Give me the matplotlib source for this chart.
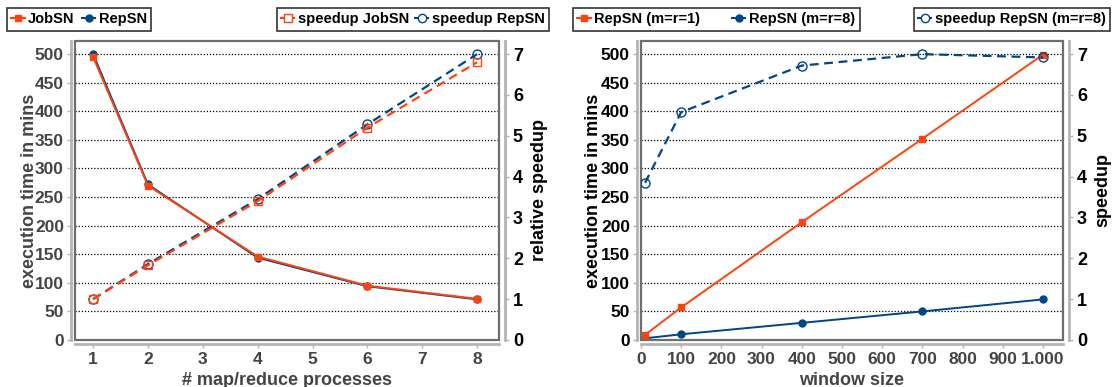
import matplotlib
matplotlib.use("Agg")
import matplotlib.pyplot as plt
from matplotlib.patches import Rectangle
from matplotlib.lines import Line2D

plt.rcParams['font.family'] = ['Liberation Sans', 'DejaVu Sans']
plt.rcParams['font.weight'] = 'bold'
plt.rcParams['axes.labelweight'] = 'bold'

# ---- data: left chart ----
procs = [1, 2, 4, 6, 8]
time_jobsn = [495, 270, 146, 95, 72]
time_repsn = [500, 272, 144, 94, 71]
speedup_jobsn = [1.0, 1.83, 3.40, 5.20, 6.80]
speedup_repsn = [1.0, 1.86, 3.45, 5.28, 7.00]
left_xticks = [1, 2, 3, 4, 5, 6, 7, 8]

# ---- data: right chart ----
window = [10, 100, 400, 700, 1000]
time_m1 = [9, 57, 206, 352, 499]
time_m8 = [3, 10, 30, 50, 71]
speedup_m8 = [3.85, 5.58, 6.72, 7.00, 6.92]
right_xticks = [0, 100, 200, 300, 400, 500, 600, 700, 800, 900, 1000]
right_xticklabels = ['0', '100', '200', '300', '400', '500', '600', '700', '800', '900', '1.000']

time_ticks = list(range(0, 501, 50))
speed_ticks = [0, 1, 2, 3, 4, 5, 6, 7]

ORANGE = '#ff420e'
BLUE = '#004586'
GRAY_TXT = '#444444'
FRAME = '#6e6e6e'
AXLINE = '#b4b4b4'
TICK_FS = 12.5
LABEL_FS = 13

W, H = 1113, 387
fig = plt.figure(figsize=(W / 100, H / 100), dpi=100)


def px_axes(x0, x1, y0, y1):
    return fig.add_axes([x0 / W, 1 - y1 / H, (x1 - x0) / W, (y1 - y0) / H])


def style(ax, ax2, left_col, right_col, xcol):
    ax.set_ylim(0, 523)
    ax2.set_ylim(0, 7 * 523 / 500)
    ax.set_yticks(time_ticks)
    ax2.set_yticks(speed_ticks)
    for s in ['top', 'right']:
        ax.spines[s].set_visible(False)
    for s in ['top', 'left', 'bottom']:
        ax2.spines[s].set_visible(False)
    for s in ['left', 'bottom']:
        ax.spines[s].set_position(('outward', 3))
        ax.spines[s].set_color(AXLINE)
        ax.spines[s].set_linewidth(2)
    ax2.spines['right'].set_position(('outward', 4))
    ax2.spines['right'].set_color(AXLINE)
    ax2.spines['right'].set_linewidth(2)
    ax.add_patch(Rectangle((0, 0), 1, 1, transform=ax.transAxes, fill=False,
                           edgecolor=FRAME, linewidth=1.6, zorder=5, clip_on=False))
    ax.grid(axis='y', color='black', linestyle=(0, (1, 1.5)), linewidth=0.9)
    ax.set_axisbelow(True)
    ax.tick_params(axis='y', colors=AXLINE, labelcolor=left_col, labelsize=TICK_FS,
                   length=3, width=1, pad=2)
    ax.tick_params(axis='x', colors=AXLINE, labelcolor=xcol, labelsize=TICK_FS,
                   length=3, width=1, pad=3)
    ax2.tick_params(axis='y', colors=AXLINE, labelcolor=right_col, labelsize=13,
                    length=3, width=1, pad=3)
    for t in ax.get_xticklabels() + ax.get_yticklabels() + ax2.get_yticklabels():
        t.set_fontweight('bold')


# ================= left chart =================
ax = px_axes(75, 499, 41, 340)
ax2 = ax.twinx()
ax.plot(procs, time_repsn, color=BLUE, lw=1.4, marker='o', ms=5, zorder=3)
ax.plot(procs, time_jobsn, color=ORANGE, lw=1.4, marker='s', ms=5, zorder=4)
ax2.plot(procs, speedup_repsn, color=BLUE, lw=1.6, ls=(0, (4, 2.5)), marker='o',
         ms=6.5, mfc='none', mew=1, zorder=3)
ax2.plot(procs, speedup_jobsn, color=ORANGE, lw=1.6, ls=(0, (4, 2.5)), marker='s',
         ms=6, mfc='none', mew=1, zorder=4)
ax.set_xlim(0.67, 8.4)
ax.set_xticks(left_xticks)
style(ax, ax2, GRAY_TXT, 'black', GRAY_TXT)
ax.set_ylabel('execution time in mins', fontsize=LABEL_FS, fontweight='bold',
              color=GRAY_TXT, labelpad=-2)
ax2.set_ylabel('relative speedup', fontsize=LABEL_FS, fontweight='bold',
               color='black', labelpad=6)
ax.set_xlabel('# map/reduce processes', fontsize=LABEL_FS, fontweight='bold',
              color=GRAY_TXT, labelpad=3)

# ================= right chart =================
bx = px_axes(641, 1063, 41, 340)
bx2 = bx.twinx()
bx.plot(window, time_m1, color=ORANGE, lw=1.4, marker='s', ms=5, zorder=4)
bx.plot(window, time_m8, color=BLUE, lw=1.4, marker='o', ms=5, zorder=3)
bx2.plot(window, speedup_m8, color=BLUE, lw=1.6, ls=(0, (4, 2.5)), marker='o',
         ms=6.5, mfc='none', mew=1, zorder=3)
bx.set_xlim(0, 1050)
bx.set_xticks(right_xticks)
bx.set_xticklabels(right_xticklabels)
style(bx, bx2, 'black', 'black', GRAY_TXT)
bx.set_ylabel('execution time in mins', fontsize=LABEL_FS, fontweight='bold',
              color='black', labelpad=-1)
bx2.set_ylabel('speedup', fontsize=LABEL_FS, fontweight='bold', color='black', labelpad=5)
bx.set_xlabel('window size', fontsize=LABEL_FS, fontweight='bold', color=GRAY_TXT, labelpad=3)


# ================= legends =================
def h(color, marker, filled, ls='-'):
    return Line2D([], [], color=color, lw=1.5, ls=ls, marker=marker,
                  ms=5 if filled else 6, mfc=color if filled else 'white', mew=1)


leg_kw = dict(frameon=True, fancybox=False, edgecolor='black',
              prop={'size': 10.5, 'weight': 'bold'},
              handlelength=0.9, handletextpad=0.25, borderaxespad=0,
              borderpad=0.3, ncol=2)


def legend(handles, labels, loc, anchor, colsp):
    lg = fig.legend(handles, labels, loc=loc, bbox_to_anchor=anchor,
                    bbox_transform=fig.transFigure, columnspacing=colsp, **leg_kw)
    lg.get_frame().set_linewidth(1.2)
    return lg


legend([h(ORANGE, 's', True), h(BLUE, 'o', True)], ['JobSN', 'RepSN'],
       'upper left', (7 / W, 1 - 8 / H), 0.5)
legend([h(ORANGE, 's', False), h(BLUE, 'o', False)],
       ['speedup JobSN', 'speedup RepSN'],
       'upper right', (549 / W, 1 - 8 / H), 0.4)
legend([h(ORANGE, 's', True), h(BLUE, 'o', True)],
       ['RepSN (m=r=1)', 'RepSN (m=r=8)'],
       'upper left', (573 / W, 1 - 8 / H), 2.2)
lg = fig.legend([h(BLUE, 'o', False)], ['speedup RepSN (m=r=8)'], loc='upper right',
                bbox_to_anchor=(1110 / W, 1 - 8 / H), bbox_transform=fig.transFigure,
                **{**leg_kw, 'ncol': 1})
lg.get_frame().set_linewidth(1.2)

fig.savefig('out.png', dpi=100)
